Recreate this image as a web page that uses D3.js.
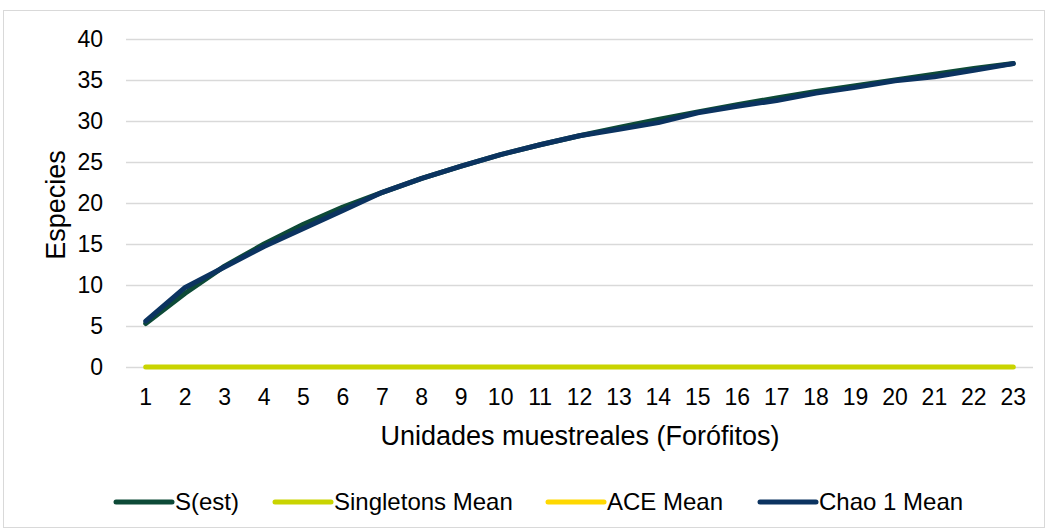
<!DOCTYPE html>
<html>
<head>
<meta charset="utf-8">
<script src="https://cdn.jsdelivr.net/npm/d3@7"></script>
<style>
  html, body { margin: 0; padding: 0; background: #fff; }
  svg { display: block; font-family: "Liberation Sans", Arial, sans-serif; }
</style>
</head>
<body>
<svg id="chart" width="1048" height="531"></svg>
<script>
// Sample units (phorophytes)
const units = d3.range(1, 24);
// Species accumulation estimates per sample unit
const sEst       = [5.3, 9.0, 12.3, 15.0, 17.4, 19.5, 21.3, 23.0, 24.5, 25.9, 27.1, 28.2, 29.2, 30.2, 31.1, 32.0, 32.8, 33.6, 34.3, 35.0, 35.7, 36.4, 37.0];
const singletons = [0, 0, 0, 0, 0, 0, 0, 0, 0, 0, 0, 0, 0, 0, 0, 0, 0, 0, 0, 0, 0, 0, 0];
const aceMean    = [];
const chao1      = [5.6, 9.7, 12.2, 14.7, 16.9, 19.1, 21.3, 23.0, 24.5, 25.9, 27.1, 28.2, 29.0, 29.8, 31.0, 31.8, 32.5, 33.4, 34.1, 34.9, 35.4, 36.2, 37.0];
const yTicks = [0, 5, 10, 15, 20, 25, 30, 35, 40];

const series = [
  { name: "S(est)",          values: sEst,       color: "#0d4a37" },
  { name: "Singletons Mean", values: singletons, color: "#c9d400" },
  { name: "ACE Mean",        values: aceMean,    color: "#ffd800" },
  { name: "Chao 1 Mean",     values: chao1,      color: "#0b3360" }
];

const svg = d3.select("#chart");

// outer frame
svg.append("rect")
  .attr("x", 3.5).attr("y", 10.5)
  .attr("width", 1041).attr("height", 517)
  .attr("fill", "#fff").attr("stroke", "#d9d9d9").attr("stroke-width", 1);

const plotLeft = 126, plotRight = 1033, plotTop = 39, plotBottom = 367;

const x = d3.scaleBand().domain(units).range([plotLeft, plotRight]);
const y = d3.scaleLinear().domain([0, 40]).range([plotBottom, plotTop]);

// gridlines
svg.append("g")
  .selectAll("line")
  .data(yTicks)
  .join("line")
  .attr("x1", plotLeft).attr("x2", plotRight)
  .attr("y1", d => Math.round(y(d)) + 0.5).attr("y2", d => Math.round(y(d)) + 0.5)
  .attr("stroke", "#d9d9d9").attr("stroke-width", 1.3);

// y axis labels
const yAxis = svg.append("g")
  .attr("transform", `translate(${plotLeft - 23},0)`)
  .call(d3.axisLeft(y).tickValues(yTicks).tickSize(0).tickPadding(0));
yAxis.select(".domain").remove();
yAxis.selectAll("text")
  .attr("font-size", 23).attr("fill", "#000")
  .attr("font-family", "Liberation Sans, Arial, sans-serif");

// x axis labels
const xAxis = svg.append("g")
  .attr("transform", `translate(0,${plotBottom + 22})`)
  .call(d3.axisBottom(x).tickSize(0).tickPadding(0));
xAxis.select(".domain").remove();
xAxis.selectAll("text")
  .attr("font-size", 23).attr("fill", "#000")
  .attr("font-family", "Liberation Sans, Arial, sans-serif");

// axis titles
svg.append("text")
  .attr("x", 580).attr("y", 445)
  .attr("text-anchor", "middle").attr("font-size", 27).attr("fill", "#000")
  .text("Unidades muestreales (Forófitos)");

svg.append("text")
  .attr("transform", `translate(65,${(plotTop + plotBottom) / 2 + 2}) rotate(-90)`)
  .attr("text-anchor", "middle").attr("font-size", 27).attr("fill", "#000")
  .text("Especies");

// series lines
const line = d3.line()
  .x((d, i) => x(units[i]) + x.bandwidth() / 2)
  .y(d => y(d));

svg.append("g")
  .selectAll("path")
  .data(series.filter(s => s.values.length))
  .join("path")
  .attr("d", s => line(s.values))
  .attr("fill", "none")
  .attr("stroke", s => s.color)
  .attr("stroke-width", 5)
  .attr("stroke-linejoin", "round")
  .attr("stroke-linecap", "round");

// legend
const legendX = [116, 275, 548, 760];
const legend = svg.append("g")
  .selectAll("g")
  .data(series)
  .join("g")
  .attr("transform", (d, i) => `translate(${legendX[i]},502)`);
legend.append("line")
  .attr("x1", 0).attr("x2", 56)
  .attr("stroke", d => d.color).attr("stroke-width", 5)
  .attr("stroke-linecap", "round");
legend.append("text")
  .attr("x", 59).attr("dy", "0.35em")
  .attr("font-size", 24).attr("fill", "#000")
  .text(d => d.name);
</script>
</body>
</html>
